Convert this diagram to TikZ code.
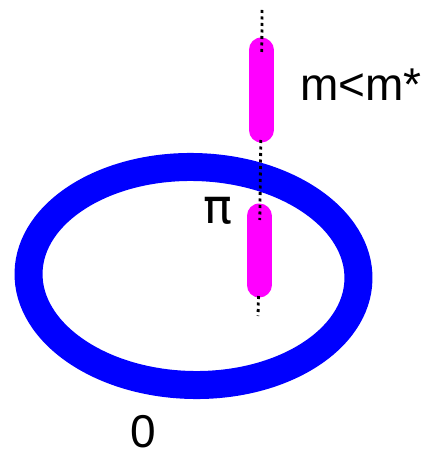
\documentclass[tikz,border=0pt]{standalone}
\usepackage{fontspec}
\setmainfont{Liberation Sans}
\newfontfamily\pifont{DejaVu Sans}
\begin{document}
\begin{tikzpicture}[x=1pt,y=-1pt,
  ring/.style={draw={rgb,255:red,0;green,0;blue,255},line width=28pt},
  bar/.style={draw={rgb,255:red,255;green,0;blue,255},line width=25pt,line cap=round},
  dots/.style={draw=black,line width=2.8pt,dash pattern=on 3pt off 3.5pt},
  lbl/.style={font=\fontsize{46}{46}\selectfont,inner sep=0pt,anchor=base}]
\useasboundingbox (0,0) rectangle (425,449);
\draw[ring,rotate around={-1.2:(193.5,276)}] (193.5,276) ellipse [x radius=165,y radius=109];
\coordinate (u1) at (261,50);
\coordinate (u2) at (261,130);
\coordinate (l1) at (259,216);
\coordinate (l2) at (259,285);
\draw[bar] (u1) -- (u2);
\draw[bar] (l1) -- (l2);
\coordinate (d0) at (262,10);
\coordinate (d1) at (261.8,53);
\coordinate (d2) at (260.8,140);
\coordinate (d3) at (259.8,220);
\coordinate (d4) at (258.5,296);
\coordinate (d5) at (258,316);
\draw[dots] (d0) -- (d1);
\draw[dots] (d2) -- (d3);
\draw[dots] (d4) -- (d5);
\node[lbl] (m) at (361,101) {m<m*};
\node[lbl,font=\pifont\fontsize{48}{48}\selectfont] (pi) at (218,223) {π};
\node[lbl] (z) at (143,447) {0};
\end{tikzpicture}
\end{document}
